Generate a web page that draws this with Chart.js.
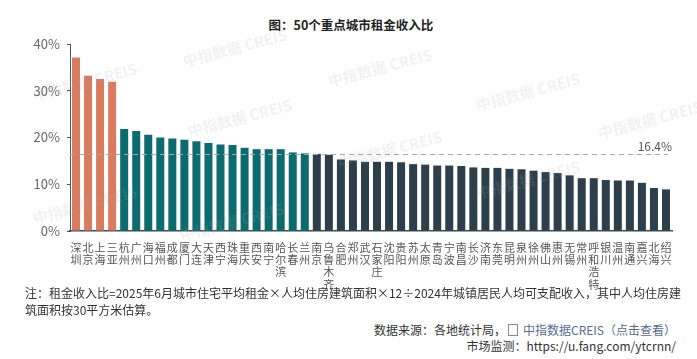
<!DOCTYPE html>
<html>
<head>
<meta charset="utf-8">
<script src="https://cdn.jsdelivr.net/npm/chart.js@4"></script>
<style>
  body { margin: 0; background: #fff; font-family: "Noto Sans CJK SC", "Noto Sans", sans-serif; }
  #wrap { position: relative; width: 697px; height: 359px; overflow: hidden; }
  #box { position: absolute; left: 0; top: 0; width: 697px; height: 290px; }
  .title { position: absolute; top: 15px; left: 0; width: 702px; text-align: center; font-size: 12.5px; font-weight: bold; color: #222; }
  .note { position: absolute; left: 25px; top: 284px; font-size: 12px; line-height: 17px; color: #333; white-space: nowrap; }
  .src { position: absolute; right: 21px; top: 322px; font-size: 12px; line-height: 16px; color: #333; text-align: right; white-space: nowrap; }
  .lnk { color: #576b95; }
  .ico { display: inline-block; width: 8px; height: 10px; border: 1px solid #8a8a8a; vertical-align: -1px; margin: 0 5px 0 2px; }
</style>
</head>
<body>
<div id="wrap">
  <div class="title">图：50个重点城市租金收入比</div>
  <div id="box"><canvas id="myChart"></canvas></div>
  <div class="note">注：租金收入比=2025年6月城市住宅平均租金×人均住房建筑面积×12÷2024年城镇居民人均可支配收入，其中人均住房建<br>筑面积按30平方米估算。</div>
  <div class="src">数据来源：各地统计局，<span class="ico"></span><span class="lnk">中指数据CREIS（点击查看）</span><br>市场监测：https://u.fang.com/ytcrnn/</div>
</div>
<script>
// 城市
const cities = ["深圳", "北京", "上海", "三亚", "杭州", "广州", "海口", "福州", "成都", "厦门",
    "大连", "天津", "西宁", "珠海", "重庆", "西安", "南宁", "哈尔滨", "长春", "兰州",
    "南京", "乌鲁木齐", "合肥", "郑州", "武汉", "石家庄", "沈阳", "贵阳", "苏州", "太原",
    "青岛", "宁波", "南昌", "长沙", "济南", "东莞", "昆明", "泉州", "徐州", "佛山",
    "惠州", "无锡", "常州", "呼和浩特", "银川", "温州", "南通", "嘉兴", "北海", "绍兴"];
// 租金收入比 (%)
const ratios = [37.1, 33.2, 32.5, 31.9, 21.8, 21.4, 20.6, 20.0, 19.8, 19.5,
    19.2, 18.8, 18.5, 18.4, 17.8, 17.5, 17.5, 17.5, 16.8, 16.6,
    16.5, 16.3, 15.3, 15.1, 14.8, 14.8, 14.8, 14.7, 14.3, 14.2,
    14.0, 14.0, 13.9, 13.6, 13.5, 13.5, 13.3, 13.2, 12.9, 12.6,
    12.4, 11.9, 11.3, 11.3, 10.9, 10.8, 10.8, 10.3, 9.2, 8.9];
const avgRatio = 16.4;
const groupSizes = [4, 16, 30];
const yTicks = [0, 10, 20, 30, 40];

const groupColors = ['#d97b5e', '#0b6b6f', '#2c3f4b'];
let barColors = [];
groupSizes.forEach(function (n, g) {
    for (let i = 0; i < n; i++) barColors.push(groupColors[g]);
});

const avgLine = {
    id: 'avgLine',
    afterDatasetsDraw: function (chart) {
        const c = chart.ctx, a = chart.chartArea;
        const y = Math.round(chart.scales.y.getPixelForValue(avgRatio)) + 0.5;
        c.save();
        c.strokeStyle = '#a9a9a9';
        c.lineWidth = 1;
        c.setLineDash([5, 4]);
        c.beginPath();
        c.moveTo(a.left, y);
        c.lineTo(a.right - 4, y);
        c.stroke();
        c.setLineDash([]);
        c.fillStyle = '#555';
        c.font = '12px "Noto Sans CJK SC"';
        c.textAlign = 'right';
        c.textBaseline = 'bottom';
        c.fillText(avgRatio.toFixed(1) + '%', a.right, y - 2);
        c.restore();
    }
};

const watermark = {
    id: 'watermark',
    afterDatasetsDraw: function (chart) {
        const c = chart.ctx;
        const spots = [[235, 48], [85, 82], [240, 118], [85, 205], [380, 68], [528, 92], [650, 120], [232, 222], [528, 180], [390, 150]];
        c.save();
        c.fillStyle = 'rgba(170,170,170,0.16)';
        c.font = 'bold 15px "Noto Sans CJK SC"';
        c.textAlign = 'center';
        c.textBaseline = 'middle';
        spots.forEach(function (p) {
            c.save();
            c.translate(p[0], p[1]);
            c.rotate(-0.26);
            c.fillText('中指数据 CREIS', 0, 0);
            c.restore();
        });
        c.restore();
    }
};

const ctx = document.getElementById('myChart');
const myChart = new Chart(ctx, {
    type: 'bar',
    data: {
        labels: cities.map(function (s) { return s.split(''); }),
        datasets: [{
            data: ratios,
            backgroundColor: barColors,
            barPercentage: 0.665,
            categoryPercentage: 1.0
        }]
    },
    options: {
        responsive: true,
        maintainAspectRatio: false,
        animation: false,
        layout: { padding: { top: 44, right: 25, left: 0, bottom: 0 } },
        plugins: {
            legend: { display: false },
            tooltip: { enabled: false }
        },
        scales: {
            x: {
                grid: { display: false },
                border: { display: true, color: '#3b4a54', width: 1.5 },
                ticks: {
                    color: '#555',
                    font: { family: 'Noto Sans CJK SC', size: 11, lineHeight: 1.1 },
                    maxRotation: 0,
                    autoSkip: false,
                    padding: 3
                },
                afterFit: function (scale) { scale.height = 59; }
            },
            y: {
                min: 0,
                max: 40,
                afterBuildTicks: function (scale) {
                    scale.ticks = yTicks.map(function (v) { return { value: v }; });
                },
                grid: { display: true, drawOnChartArea: false, drawTicks: true, tickLength: 3, color: '#555' },
                border: { display: true, color: '#555', width: 1 },
                ticks: {
                    color: '#666',
                    font: { family: 'Noto Sans CJK SC', size: 13 },
                    padding: 7,
                    callback: function (value) { return value + '%'; }
                },
                afterFit: function (scale) { scale.width = 70; }
            }
        }
    },
    plugins: [avgLine, watermark]
});
</script>
</body>
</html>
